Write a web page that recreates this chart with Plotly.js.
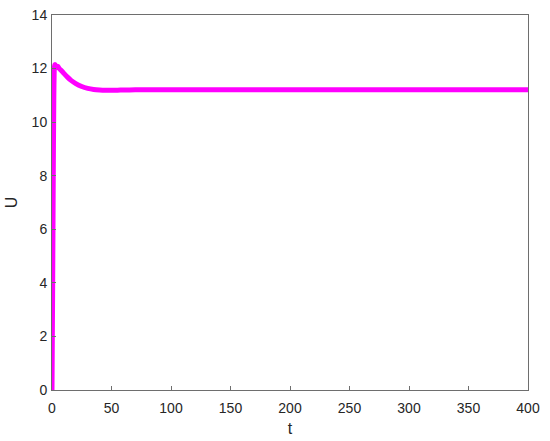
<!DOCTYPE html>
<html><head><meta charset="utf-8">
<script src="https://cdn.plot.ly/plotly-3.0.1.min.js"></script>
<style>body{margin:0;padding:0;background:#fff}#plot{width:550px;height:441px}</style>
</head><body><div id="plot"></div>
<script>
var tValues = [0, 0.5, 1, 1.5, 2, 2.5, 3, 4, 5, 6, 8, 10, 13, 16, 20, 25, 30, 35, 40, 45, 50, 55, 60, 70, 80, 100, 150, 200, 250, 300, 350, 400];
var uValues = [0, 3.5, 7.5, 10.8, 12.05, 12.15, 12.12, 12.05, 12.08, 12.0, 11.92, 11.82, 11.68, 11.56, 11.44, 11.33, 11.26, 11.22, 11.2, 11.19, 11.19, 11.195, 11.2, 11.205, 11.21, 11.21, 11.21, 11.21, 11.21, 11.21, 11.21, 11.21];
var xTicks = [0, 50, 100, 150, 200, 250, 300, 350, 400];
var yTicks = [0, 2, 4, 6, 8, 10, 12, 14];

var fontFam = 'Liberation Sans, Arial, sans-serif';
var axisCommon = {
  showgrid: false, zeroline: false, showline: true, mirror: true,
  linecolor: '#6e6e6e', linewidth: 1, ticks: 'inside', ticklen: 4,
  tickcolor: '#6e6e6e', tickfont: {family: fontFam, size: 14, color: '#262626'}
};
Plotly.newPlot('plot', [{
  x: tValues, y: uValues, type: 'scatter', mode: 'lines',
  line: {color: '#ff00ff', width: 5, shape: 'spline', smoothing: 0.5},
  hoverinfo: 'skip'
}], {
  width: 550, height: 441,
  margin: {l: 52, r: 22, t: 15, b: 51},
  paper_bgcolor: '#fff', plot_bgcolor: '#fff',
  showlegend: false,
  xaxis: Object.assign({}, axisCommon, {range: [0, 400], tickvals: xTicks, ticktext: xTicks.map(String),
    ticklabelstandoff: 5,
    title: {text: 't', font: {family: fontFam, size: 16, color: '#262626'}, standoff: 8}}),
  yaxis: Object.assign({}, axisCommon, {range: [0, 14], tickvals: yTicks, ticktext: yTicks.map(String),
    ticklabelstandoff: 1,
    title: {text: 'U', font: {family: fontFam, size: 16, color: '#262626'}, standoff: 10}})
}, {displayModeBar: false, staticPlot: true});
</script></body></html>
